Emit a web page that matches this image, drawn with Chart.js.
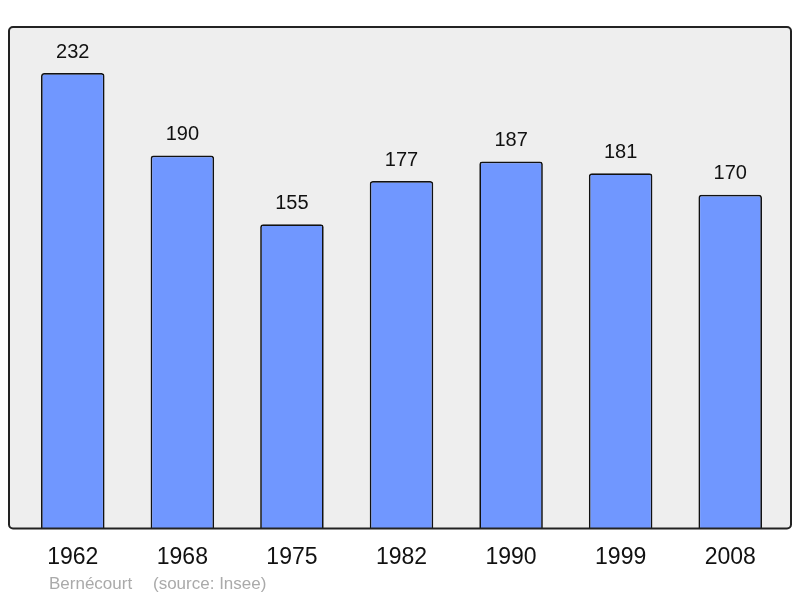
<!DOCTYPE html>
<html>
<head>
<meta charset="utf-8">
<script src="https://cdn.jsdelivr.net/npm/chart.js@4"></script>
<style>
  body { margin: 0; background: #fff; }
  #wrap { width: 800px; height: 598px; position: relative; }
</style>
</head>
<body>
<div id="wrap"><canvas id="popChart"></canvas></div>
<script>
const years = ["1962", "1968", "1975", "1982", "1990", "1999", "2008"];
const population = [232, 190, 155, 177, 187, 181, 170];
const yMax = 255.5;
const commune = "Bernécourt";
const source = "(source: Insee)";

// grey panel with a dark frame behind the bars
const framePlugin = {
    id: "frame",
    beforeDatasetsDraw(chart) {
        const { ctx, chartArea } = chart;
        const l = chartArea.left - 9, r = chartArea.right + 6;
        const t = chartArea.top, b = chartArea.bottom;
        ctx.save();
        ctx.beginPath();
        ctx.roundRect(l, t, r - l, b - t, 4);
        ctx.fillStyle = "#eeeeee";
        ctx.fill();
        ctx.restore();
    },
    afterDatasetsDraw(chart) {
        const { ctx, chartArea } = chart;
        const l = chartArea.left - 9, r = chartArea.right + 6;
        const t = chartArea.top, b = chartArea.bottom;
        ctx.save();
        ctx.beginPath();
        ctx.roundRect(l, t, r - l, b - t, 4);
        ctx.lineWidth = 2;
        ctx.strokeStyle = "#222";
        ctx.stroke();

        // values above bars
        ctx.fillStyle = "#111";
        ctx.font = "20px 'Liberation Sans', Arial, sans-serif";
        ctx.textAlign = "center";
        ctx.textBaseline = "middle";
        chart.getDatasetMeta(0).data.forEach((bar, i) => {
            ctx.fillText(String(population[i]), bar.x, bar.y - 21);
        });

        // footer
        ctx.fillStyle = "#aaaaaa";
        ctx.font = "17px 'Liberation Sans', Arial, sans-serif";
        ctx.textAlign = "left";
        ctx.fillText(commune, 49, 584);
        ctx.fillText(source, 153, 584);
        ctx.restore();
    }
};

new Chart(document.getElementById("popChart"), {
    type: "bar",
    data: {
        labels: years,
        datasets: [{
            data: population,
            backgroundColor: "#7097ff",
            borderColor: "#111",
            borderWidth: 1.7,
            borderRadius: 3,
            borderSkipped: "bottom",
            barPercentage: 0.58,
            categoryPercentage: 1
        }]
    },
    options: {
        responsive: true,
        maintainAspectRatio: false,
        animation: false,
        layout: { padding: { left: 18, right: 15, top: 27, bottom: 20 } },
        plugins: { legend: { display: false }, tooltip: { enabled: false } },
        scales: {
            x: {
                grid: { display: false },
                border: { display: false },
                ticks: {
                    color: "#111",
                    padding: 7,
                    font: { size: 23, family: "'Liberation Sans', Arial, sans-serif" }
                }
            },
            y: { display: false, min: 0, max: yMax }
        }
    },
    plugins: [framePlugin]
});
</script>
</body>
</html>
